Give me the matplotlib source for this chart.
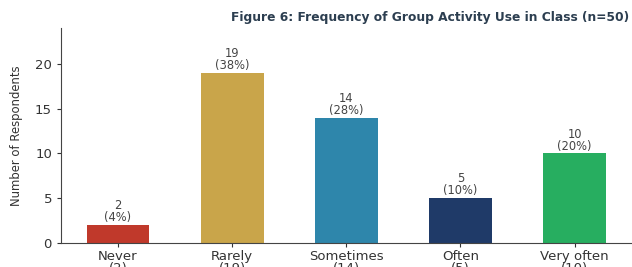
import matplotlib
matplotlib.use("Agg")
import matplotlib.pyplot as plt

categories = ["Never", "Rarely", "Sometimes", "Often", "Very often"]
counts = [2, 19, 14, 5, 10]
total = 50
colors = ["#c0392b", "#c9a54a", "#2e86ab", "#1f3a68", "#27ae60"]
title = "Figure 6: Frequency of Group Activity Use in Class (n=50)"
ylabel = "Number of Respondents"

fig = plt.figure(figsize=(6.32, 2.67), dpi=100)
ax = fig.add_axes([0.0965, 0.09, 0.911, 0.805])
x = list(range(len(categories)))
bars = ax.bar(x, counts, width=0.55, color=colors)
for xi, c in zip(x, counts):
    ax.text(xi, c + 0.1, f"{c}\n({c/total*100:.0f}%)", ha="center", va="bottom",
            fontsize=8.3, color="#444444", linespacing=0.9)
ax.set_xticks(x)
ax.set_xticklabels([f"{c}\n({n})" for c, n in zip(categories, counts)],
                   fontsize=9.5, color="#333333", linespacing=0.95)
ax.set_ylim(0, 24)
ax.set_xlim(-0.5, 4.545)
ax.set_yticks([0, 5, 10, 15, 20])
ax.tick_params(axis="y", labelsize=9.5, colors="#333333", length=3)
ax.tick_params(axis="x", length=3, pad=2, colors="#333333")
for s in ["top", "right"]:
    ax.spines[s].set_visible(False)
for s in ["left", "bottom"]:
    ax.spines[s].set_color("#444444")
ax.set_ylabel(ylabel, fontsize=8.4, color="#333333")
ax.yaxis.set_label_coords(-0.066, 0.5)
fig.text(0.68, 0.935, title, ha="center", va="center", fontsize=8.8,
         fontweight="bold", color="#2c3e50")
fig.savefig("out.png", dpi=100)
